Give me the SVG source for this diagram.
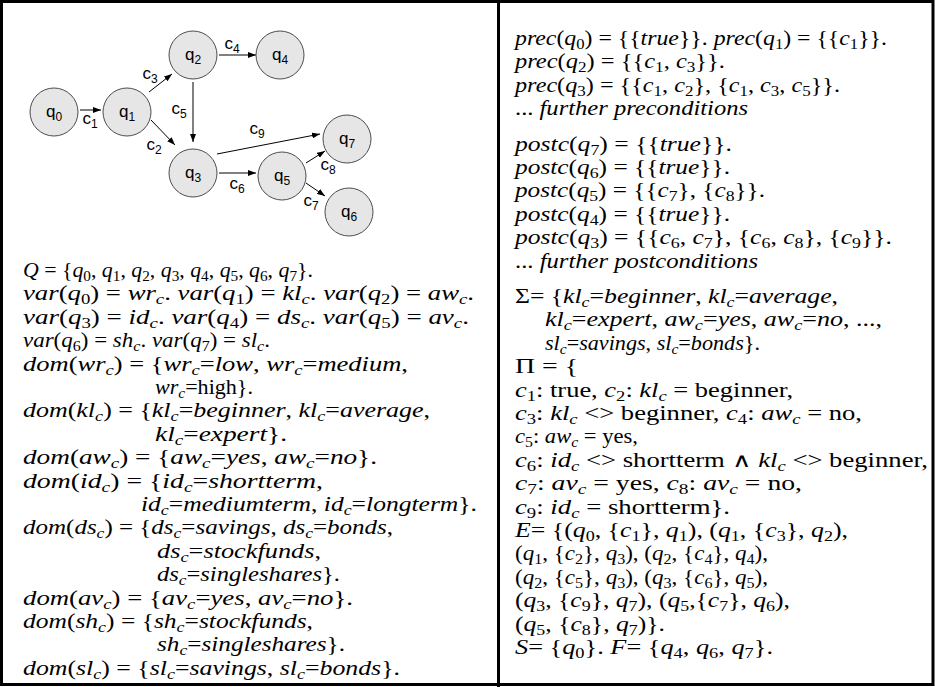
<svg xmlns="http://www.w3.org/2000/svg" width="935" height="687" viewBox="0 0 935 687">
<style>
.bg{fill:#fff}
.frame{fill:none;stroke:#000;stroke-width:3}
.node circle{fill:#e6e6e6;stroke:#4d4d4d;stroke-width:1}
.nl{font-family:"Liberation Sans",Arial,sans-serif;font-size:17px;fill:#000;text-anchor:middle}
.nl .sb{font-size:12px}
.edge{stroke:#000;stroke-width:1;fill:none;marker-end:url(#ah)}
.t{font-family:"Liberation Serif","Times New Roman",serif;font-size:20px;fill:#000}
.i{font-style:italic}
.s{font-size:14px}
</style>
<defs>
<marker id="ah" markerWidth="8" markerHeight="6" refX="8" refY="3" orient="auto" markerUnits="userSpaceOnUse"><path d="M0,0 L8,3 L0,6 z" fill="#000"/></marker>
</defs>
<rect class="bg" x="0" y="0" width="935" height="687"/>
<rect class="frame" x="1.5" y="1.5" width="931.5" height="683"/>
<line x1="498.5" y1="0" x2="498.5" y2="687" stroke="#000" stroke-width="3"/>

<g id="connectors">
<line class="edge" x1="80" y1="110" x2="101" y2="110"/>
<line class="edge" x1="149" y1="92" x2="172" y2="74"/>
<line class="edge" x1="151" y1="120" x2="175" y2="145"/>
<line class="edge" x1="193" y1="82" x2="193" y2="142"/>
<line class="edge" x1="219" y1="55" x2="256" y2="55"/>
<line class="edge" x1="217" y1="154" x2="320" y2="134"/>
<line class="edge" x1="219" y1="173" x2="256" y2="173"/>
<line class="edge" x1="306" y1="163" x2="325" y2="151"/>
<line class="edge" x1="306" y1="183" x2="325" y2="196"/>
<text class="nl" x="90" y="124">c<tspan class="sb" dy="4">1</tspan></text>
<text class="nl" x="150" y="79">c<tspan class="sb" dy="4">3</tspan></text>
<text class="nl" x="154" y="150">c<tspan class="sb" dy="4">2</tspan></text>
<text class="nl" x="179" y="114">c<tspan class="sb" dy="4">5</tspan></text>
<text class="nl" x="232" y="49">c<tspan class="sb" dy="4">4</tspan></text>
<text class="nl" x="257" y="134">c<tspan class="sb" dy="4">9</tspan></text>
<text class="nl" x="237" y="189">c<tspan class="sb" dy="4">6</tspan></text>
<text class="nl" x="328" y="170">c<tspan class="sb" dy="4">8</tspan></text>
<text class="nl" x="311" y="206">c<tspan class="sb" dy="4">7</tspan></text>
</g>

<g id="q0" class="node"><circle cx="54" cy="112" r="24"/><text class="nl" x="54" y="117">q<tspan class="sb" dy="4">0</tspan></text></g>
<g id="q1" class="node"><circle cx="127" cy="112" r="24"/><text class="nl" x="127" y="117">q<tspan class="sb" dy="4">1</tspan></text></g>
<g id="q2" class="node"><circle cx="193" cy="55" r="24"/><text class="nl" x="193" y="60">q<tspan class="sb" dy="4">2</tspan></text></g>
<g id="q4" class="node"><circle cx="280" cy="55" r="24"/><text class="nl" x="280" y="60">q<tspan class="sb" dy="4">4</tspan></text></g>
<g id="q3" class="node"><circle cx="193" cy="173" r="24"/><text class="nl" x="193" y="178">q<tspan class="sb" dy="4">3</tspan></text></g>
<g id="q5" class="node"><circle cx="282" cy="176" r="24"/><text class="nl" x="282" y="181">q<tspan class="sb" dy="4">5</tspan></text></g>
<g id="q7" class="node"><circle cx="347" cy="139" r="24"/><text class="nl" x="347" y="144">q<tspan class="sb" dy="4">7</tspan></text></g>
<g id="q6" class="node"><circle cx="349" cy="212" r="24"/><text class="nl" x="349" y="217">q<tspan class="sb" dy="4">6</tspan></text></g>

<g id="left-text">
<text class="t" x="23" y="277" textLength="290" lengthAdjust="spacingAndGlyphs"><tspan class="i">Q</tspan> = {<tspan class="i">q</tspan><tspan class="s" dy="4">0</tspan><tspan dy="-4">, </tspan><tspan class="i">q</tspan><tspan class="s" dy="4">1</tspan><tspan dy="-4">, </tspan><tspan class="i">q</tspan><tspan class="s" dy="4">2</tspan><tspan dy="-4">, </tspan><tspan class="i">q</tspan><tspan class="s" dy="4">3</tspan><tspan dy="-4">, </tspan><tspan class="i">q</tspan><tspan class="s" dy="4">4</tspan><tspan dy="-4">, </tspan><tspan class="i">q</tspan><tspan class="s" dy="4">5</tspan><tspan dy="-4">, </tspan><tspan class="i">q</tspan><tspan class="s" dy="4">6</tspan><tspan dy="-4">, </tspan><tspan class="i">q</tspan><tspan class="s" dy="4">7</tspan><tspan dy="-4">}.</tspan></text>
<text class="t" x="23" y="300.4" textLength="451" lengthAdjust="spacingAndGlyphs"><tspan class="i">var</tspan>(<tspan class="i">q</tspan><tspan class="s" dy="4">0</tspan><tspan dy="-4">) = </tspan><tspan class="i">wr</tspan><tspan class="s i" dy="4">c</tspan><tspan dy="-4">. </tspan><tspan class="i">var</tspan>(<tspan class="i">q</tspan><tspan class="s" dy="4">1</tspan><tspan dy="-4">) = </tspan><tspan class="i">kl</tspan><tspan class="s i" dy="4">c</tspan><tspan dy="-4">. </tspan><tspan class="i">var</tspan>(<tspan class="i">q</tspan><tspan class="s" dy="4">2</tspan><tspan dy="-4">) = </tspan><tspan class="i">aw</tspan><tspan class="s i" dy="4">c</tspan><tspan dy="-4">.</tspan></text>
<text class="t" x="23" y="323.8" textLength="446" lengthAdjust="spacingAndGlyphs"><tspan class="i">var</tspan>(<tspan class="i">q</tspan><tspan class="s" dy="4">3</tspan><tspan dy="-4">) = </tspan><tspan class="i">id</tspan><tspan class="s i" dy="4">c</tspan><tspan dy="-4">. </tspan><tspan class="i">var</tspan>(<tspan class="i">q</tspan><tspan class="s" dy="4">4</tspan><tspan dy="-4">) = </tspan><tspan class="i">ds</tspan><tspan class="s i" dy="4">c</tspan><tspan dy="-4">. </tspan><tspan class="i">var</tspan>(<tspan class="i">q</tspan><tspan class="s" dy="4">5</tspan><tspan dy="-4">) = </tspan><tspan class="i">av</tspan><tspan class="s i" dy="4">c</tspan><tspan dy="-4">.</tspan></text>
<text class="t" x="23" y="347.2" textLength="247" lengthAdjust="spacingAndGlyphs"><tspan class="i">var</tspan>(<tspan class="i">q</tspan><tspan class="s" dy="4">6</tspan><tspan dy="-4">) = </tspan><tspan class="i">sh</tspan><tspan class="s i" dy="4">c</tspan><tspan dy="-4">. </tspan><tspan class="i">var</tspan>(<tspan class="i">q</tspan><tspan class="s" dy="4">7</tspan><tspan dy="-4">) = </tspan><tspan class="i">sl</tspan><tspan class="s i" dy="4">c</tspan><tspan dy="-4">.</tspan></text>
<text class="t" x="23" y="370.6" textLength="385" lengthAdjust="spacingAndGlyphs"><tspan class="i">dom</tspan>(<tspan class="i">wr</tspan><tspan class="s i" dy="4">c</tspan><tspan dy="-4">) = {</tspan><tspan class="i">wr</tspan><tspan class="s i" dy="4">c</tspan><tspan dy="-4">=</tspan><tspan class="i">low</tspan>, <tspan class="i">wr</tspan><tspan class="s i" dy="4">c</tspan><tspan dy="-4">=</tspan><tspan class="i">medium</tspan>,</text>
<text class="t" x="155" y="394" textLength="98" lengthAdjust="spacingAndGlyphs"><tspan class="i">wr</tspan><tspan class="s i" dy="4">c</tspan><tspan dy="-4">=high}.</tspan></text>
<text class="t" x="23" y="417.4" textLength="407" lengthAdjust="spacingAndGlyphs"><tspan class="i">dom</tspan>(<tspan class="i">kl</tspan><tspan class="s i" dy="4">c</tspan><tspan dy="-4">) = {</tspan><tspan class="i">kl</tspan><tspan class="s i" dy="4">c</tspan><tspan dy="-4">=</tspan><tspan class="i">beginner</tspan>, <tspan class="i">kl</tspan><tspan class="s i" dy="4">c</tspan><tspan dy="-4">=</tspan><tspan class="i">average</tspan>,</text>
<text class="t" x="155" y="440.8" textLength="132" lengthAdjust="spacingAndGlyphs"><tspan class="i">kl</tspan><tspan class="s i" dy="4">c</tspan><tspan dy="-4">=</tspan><tspan class="i">expert</tspan>}.</text>
<text class="t" x="23" y="464.2" textLength="354" lengthAdjust="spacingAndGlyphs"><tspan class="i">dom</tspan>(<tspan class="i">aw</tspan><tspan class="s i" dy="4">c</tspan><tspan dy="-4">) = {</tspan><tspan class="i">aw</tspan><tspan class="s i" dy="4">c</tspan><tspan dy="-4">=</tspan><tspan class="i">yes</tspan>, <tspan class="i">aw</tspan><tspan class="s i" dy="4">c</tspan><tspan dy="-4">=</tspan><tspan class="i">no</tspan>}.</text>
<text class="t" x="23" y="487.6" textLength="300" lengthAdjust="spacingAndGlyphs"><tspan class="i">dom</tspan>(<tspan class="i">id</tspan><tspan class="s i" dy="4">c</tspan><tspan dy="-4">) = {</tspan><tspan class="i">id</tspan><tspan class="s i" dy="4">c</tspan><tspan dy="-4">=</tspan><tspan class="i">shortterm</tspan>,</text>
<text class="t" x="141" y="511" textLength="336" lengthAdjust="spacingAndGlyphs"><tspan class="i">id</tspan><tspan class="s i" dy="4">c</tspan><tspan dy="-4">=</tspan><tspan class="i">mediumterm</tspan>, <tspan class="i">id</tspan><tspan class="s i" dy="4">c</tspan><tspan dy="-4">=</tspan><tspan class="i">longterm</tspan>}.</text>
<text class="t" x="23" y="534.4" textLength="370" lengthAdjust="spacingAndGlyphs"><tspan class="i">dom</tspan>(<tspan class="i">ds</tspan><tspan class="s i" dy="4">c</tspan><tspan dy="-4">) = {</tspan><tspan class="i">ds</tspan><tspan class="s i" dy="4">c</tspan><tspan dy="-4">=</tspan><tspan class="i">savings</tspan>, <tspan class="i">ds</tspan><tspan class="s i" dy="4">c</tspan><tspan dy="-4">=</tspan><tspan class="i">bonds</tspan>,</text>
<text class="t" x="157" y="557.8" textLength="164" lengthAdjust="spacingAndGlyphs"><tspan class="i">ds</tspan><tspan class="s i" dy="4">c</tspan><tspan dy="-4">=</tspan><tspan class="i">stockfunds</tspan>,</text>
<text class="t" x="157" y="581.2" textLength="183" lengthAdjust="spacingAndGlyphs"><tspan class="i">ds</tspan><tspan class="s i" dy="4">c</tspan><tspan dy="-4">=</tspan><tspan class="i">singleshares</tspan>}.</text>
<text class="t" x="23" y="604.6" textLength="330" lengthAdjust="spacingAndGlyphs"><tspan class="i">dom</tspan>(<tspan class="i">av</tspan><tspan class="s i" dy="4">c</tspan><tspan dy="-4">) = {</tspan><tspan class="i">av</tspan><tspan class="s i" dy="4">c</tspan><tspan dy="-4">=</tspan><tspan class="i">yes</tspan>, <tspan class="i">av</tspan><tspan class="s i" dy="4">c</tspan><tspan dy="-4">=</tspan><tspan class="i">no</tspan>}.</text>
<text class="t" x="23" y="628" textLength="290" lengthAdjust="spacingAndGlyphs"><tspan class="i">dom</tspan>(<tspan class="i">sh</tspan><tspan class="s i" dy="4">c</tspan><tspan dy="-4">) = {</tspan><tspan class="i">sh</tspan><tspan class="s i" dy="4">c</tspan><tspan dy="-4">=</tspan><tspan class="i">stockfunds</tspan>,</text>
<text class="t" x="157" y="651.4" textLength="188" lengthAdjust="spacingAndGlyphs"><tspan class="i">sh</tspan><tspan class="s i" dy="4">c</tspan><tspan dy="-4">=</tspan><tspan class="i">singleshares</tspan>}.</text>
<text class="t" x="23" y="674.8" textLength="377" lengthAdjust="spacingAndGlyphs"><tspan class="i">dom</tspan>(<tspan class="i">sl</tspan><tspan class="s i" dy="4">c</tspan><tspan dy="-4">) = {</tspan><tspan class="i">sl</tspan><tspan class="s i" dy="4">c</tspan><tspan dy="-4">=</tspan><tspan class="i">savings</tspan>, <tspan class="i">sl</tspan><tspan class="s i" dy="4">c</tspan><tspan dy="-4">=</tspan><tspan class="i">bonds</tspan>}.</text>
</g>

<g id="right-text">
<text class="t" x="515" y="45" textLength="372" lengthAdjust="spacingAndGlyphs"><tspan class="i">prec</tspan>(<tspan class="i">q</tspan><tspan class="s" dy="4">0</tspan><tspan dy="-4">) = {{</tspan><tspan class="i">true</tspan>}}. <tspan class="i">prec</tspan>(<tspan class="i">q</tspan><tspan class="s" dy="4">1</tspan><tspan dy="-4">) = {{</tspan><tspan class="i">c</tspan><tspan class="s" dy="4">1</tspan><tspan dy="-4">}}.</tspan></text>
<text class="t" x="515" y="68.4" textLength="210" lengthAdjust="spacingAndGlyphs"><tspan class="i">prec</tspan>(<tspan class="i">q</tspan><tspan class="s" dy="4">2</tspan><tspan dy="-4">) = {{</tspan><tspan class="i">c</tspan><tspan class="s" dy="4">1</tspan><tspan dy="-4">, </tspan><tspan class="i">c</tspan><tspan class="s" dy="4">3</tspan><tspan dy="-4">}}.</tspan></text>
<text class="t" x="515" y="91.8" textLength="325" lengthAdjust="spacingAndGlyphs"><tspan class="i">prec</tspan>(<tspan class="i">q</tspan><tspan class="s" dy="4">3</tspan><tspan dy="-4">) = {{</tspan><tspan class="i">c</tspan><tspan class="s" dy="4">1</tspan><tspan dy="-4">, </tspan><tspan class="i">c</tspan><tspan class="s" dy="4">2</tspan><tspan dy="-4">}, {</tspan><tspan class="i">c</tspan><tspan class="s" dy="4">1</tspan><tspan dy="-4">, </tspan><tspan class="i">c</tspan><tspan class="s" dy="4">3</tspan><tspan dy="-4">, </tspan><tspan class="i">c</tspan><tspan class="s" dy="4">5</tspan><tspan dy="-4">}}.</tspan></text>
<text class="t" x="515" y="115.2" textLength="233" lengthAdjust="spacingAndGlyphs">... <tspan class="i">further preconditions</tspan></text>
<text class="t" x="515" y="150.6" textLength="217" lengthAdjust="spacingAndGlyphs"><tspan class="i">postc</tspan>(<tspan class="i">q</tspan><tspan class="s" dy="4">7</tspan><tspan dy="-4">) = {{</tspan><tspan class="i">true</tspan>}}.</text>
<text class="t" x="515" y="174" textLength="215" lengthAdjust="spacingAndGlyphs"><tspan class="i">postc</tspan>(<tspan class="i">q</tspan><tspan class="s" dy="4">6</tspan><tspan dy="-4">) = {{</tspan><tspan class="i">true</tspan>}}.</text>
<text class="t" x="515" y="197.4" textLength="250" lengthAdjust="spacingAndGlyphs"><tspan class="i">postc</tspan>(<tspan class="i">q</tspan><tspan class="s" dy="4">5</tspan><tspan dy="-4">) = {{</tspan><tspan class="i">c</tspan><tspan class="s" dy="4">7</tspan><tspan dy="-4">}, {</tspan><tspan class="i">c</tspan><tspan class="s" dy="4">8</tspan><tspan dy="-4">}}.</tspan></text>
<text class="t" x="515" y="220.8" textLength="215" lengthAdjust="spacingAndGlyphs"><tspan class="i">postc</tspan>(<tspan class="i">q</tspan><tspan class="s" dy="4">4</tspan><tspan dy="-4">) = {{</tspan><tspan class="i">true</tspan>}}.</text>
<text class="t" x="515" y="244.2" textLength="377" lengthAdjust="spacingAndGlyphs"><tspan class="i">postc</tspan>(<tspan class="i">q</tspan><tspan class="s" dy="4">3</tspan><tspan dy="-4">) = {{</tspan><tspan class="i">c</tspan><tspan class="s" dy="4">6</tspan><tspan dy="-4">, </tspan><tspan class="i">c</tspan><tspan class="s" dy="4">7</tspan><tspan dy="-4">}, {</tspan><tspan class="i">c</tspan><tspan class="s" dy="4">6</tspan><tspan dy="-4">, </tspan><tspan class="i">c</tspan><tspan class="s" dy="4">8</tspan><tspan dy="-4">}, {</tspan><tspan class="i">c</tspan><tspan class="s" dy="4">9</tspan><tspan dy="-4">}}.</tspan></text>
<text class="t" x="515" y="267.6" textLength="243" lengthAdjust="spacingAndGlyphs">... <tspan class="i">further postconditions</tspan></text>
<text class="t" x="515" y="303" textLength="323" lengthAdjust="spacingAndGlyphs">Σ= {<tspan class="i">kl</tspan><tspan class="s i" dy="4">c</tspan><tspan dy="-4">=</tspan><tspan class="i">beginner</tspan>, <tspan class="i">kl</tspan><tspan class="s i" dy="4">c</tspan><tspan dy="-4">=</tspan><tspan class="i">average</tspan>,</text>
<text class="t" x="545" y="326.4" textLength="337" lengthAdjust="spacingAndGlyphs"><tspan class="i">kl</tspan><tspan class="s i" dy="4">c</tspan><tspan dy="-4">=</tspan><tspan class="i">expert</tspan>, <tspan class="i">aw</tspan><tspan class="s i" dy="4">c</tspan><tspan dy="-4">=</tspan><tspan class="i">yes</tspan>, <tspan class="i">aw</tspan><tspan class="s i" dy="4">c</tspan><tspan dy="-4">=</tspan><tspan class="i">no</tspan>, ...,</text>
<text class="t" x="545" y="349.8" textLength="215" lengthAdjust="spacingAndGlyphs"><tspan class="i">sl</tspan><tspan class="s i" dy="4">c</tspan><tspan dy="-4">=</tspan><tspan class="i">savings</tspan>, <tspan class="i">sl</tspan><tspan class="s i" dy="4">c</tspan><tspan dy="-4">=</tspan><tspan class="i">bonds</tspan>}.</text>
<text class="t" x="515" y="373.2" textLength="63" lengthAdjust="spacingAndGlyphs">Π = {</text>
<text class="t" x="515" y="396.6" textLength="278" lengthAdjust="spacingAndGlyphs"><tspan class="i">c</tspan><tspan class="s" dy="4">1</tspan><tspan dy="-4">: true, </tspan><tspan class="i">c</tspan><tspan class="s" dy="4">2</tspan><tspan dy="-4">: </tspan><tspan class="i">kl</tspan><tspan class="s i" dy="4">c</tspan><tspan dy="-4"> = beginner,</tspan></text>
<text class="t" x="515" y="420" textLength="347" lengthAdjust="spacingAndGlyphs"><tspan class="i">c</tspan><tspan class="s" dy="4">3</tspan><tspan dy="-4">: </tspan><tspan class="i">kl</tspan><tspan class="s i" dy="4">c</tspan><tspan dy="-4"> &lt;&gt; beginner, </tspan><tspan class="i">c</tspan><tspan class="s" dy="4">4</tspan><tspan dy="-4">: </tspan><tspan class="i">aw</tspan><tspan class="s i" dy="4">c</tspan><tspan dy="-4"> = no,</tspan></text>
<text class="t" x="515" y="443.4" textLength="123" lengthAdjust="spacingAndGlyphs"><tspan class="i">c</tspan><tspan class="s" dy="4">5</tspan><tspan dy="-4">: </tspan><tspan class="i">aw</tspan><tspan class="s i" dy="4">c</tspan><tspan dy="-4"> = yes,</tspan></text>
<text class="t" x="515" y="466.8" textLength="413" lengthAdjust="spacingAndGlyphs"><tspan class="i">c</tspan><tspan class="s" dy="4">6</tspan><tspan dy="-4">: </tspan><tspan class="i">id</tspan><tspan class="s i" dy="4">c</tspan><tspan dy="-4"> &lt;&gt; shortterm ∧ </tspan><tspan class="i">kl</tspan><tspan class="s i" dy="4">c</tspan><tspan dy="-4"> &lt;&gt; beginner,</tspan></text>
<text class="t" x="515" y="490.2" textLength="287" lengthAdjust="spacingAndGlyphs"><tspan class="i">c</tspan><tspan class="s" dy="4">7</tspan><tspan dy="-4">: </tspan><tspan class="i">av</tspan><tspan class="s i" dy="4">c</tspan><tspan dy="-4"> = yes, </tspan><tspan class="i">c</tspan><tspan class="s" dy="4">8</tspan><tspan dy="-4">: </tspan><tspan class="i">av</tspan><tspan class="s i" dy="4">c</tspan><tspan dy="-4"> = no,</tspan></text>
<text class="t" x="515" y="513.6" textLength="215" lengthAdjust="spacingAndGlyphs"><tspan class="i">c</tspan><tspan class="s" dy="4">9</tspan><tspan dy="-4">: </tspan><tspan class="i">id</tspan><tspan class="s i" dy="4">c</tspan><tspan dy="-4"> = shortterm}.</tspan></text>
<text class="t" x="515" y="537" textLength="333" lengthAdjust="spacingAndGlyphs"><tspan class="i">E</tspan>= {(<tspan class="i">q</tspan><tspan class="s" dy="4">0</tspan><tspan dy="-4">, {</tspan><tspan class="i">c</tspan><tspan class="s" dy="4">1</tspan><tspan dy="-4">}, </tspan><tspan class="i">q</tspan><tspan class="s" dy="4">1</tspan><tspan dy="-4">), (</tspan><tspan class="i">q</tspan><tspan class="s" dy="4">1</tspan><tspan dy="-4">, {</tspan><tspan class="i">c</tspan><tspan class="s" dy="4">3</tspan><tspan dy="-4">}, </tspan><tspan class="i">q</tspan><tspan class="s" dy="4">2</tspan><tspan dy="-4">),</tspan></text>
<text class="t" x="515" y="560.4" textLength="253" lengthAdjust="spacingAndGlyphs">(<tspan class="i">q</tspan><tspan class="s" dy="4">1</tspan><tspan dy="-4">, {</tspan><tspan class="i">c</tspan><tspan class="s" dy="4">2</tspan><tspan dy="-4">}, </tspan><tspan class="i">q</tspan><tspan class="s" dy="4">3</tspan><tspan dy="-4">), (</tspan><tspan class="i">q</tspan><tspan class="s" dy="4">2</tspan><tspan dy="-4">, {</tspan><tspan class="i">c</tspan><tspan class="s" dy="4">4</tspan><tspan dy="-4">}, </tspan><tspan class="i">q</tspan><tspan class="s" dy="4">4</tspan><tspan dy="-4">),</tspan></text>
<text class="t" x="515" y="583.8" textLength="253" lengthAdjust="spacingAndGlyphs">(<tspan class="i">q</tspan><tspan class="s" dy="4">2</tspan><tspan dy="-4">, {</tspan><tspan class="i">c</tspan><tspan class="s" dy="4">5</tspan><tspan dy="-4">}, </tspan><tspan class="i">q</tspan><tspan class="s" dy="4">3</tspan><tspan dy="-4">), (</tspan><tspan class="i">q</tspan><tspan class="s" dy="4">3</tspan><tspan dy="-4">, {</tspan><tspan class="i">c</tspan><tspan class="s" dy="4">6</tspan><tspan dy="-4">}, </tspan><tspan class="i">q</tspan><tspan class="s" dy="4">5</tspan><tspan dy="-4">),</tspan></text>
<text class="t" x="515" y="607.2" textLength="275" lengthAdjust="spacingAndGlyphs">(<tspan class="i">q</tspan><tspan class="s" dy="4">3</tspan><tspan dy="-4">, {</tspan><tspan class="i">c</tspan><tspan class="s" dy="4">9</tspan><tspan dy="-4">}, </tspan><tspan class="i">q</tspan><tspan class="s" dy="4">7</tspan><tspan dy="-4">), (</tspan><tspan class="i">q</tspan><tspan class="s" dy="4">5</tspan><tspan dy="-4">,{</tspan><tspan class="i">c</tspan><tspan class="s" dy="4">7</tspan><tspan dy="-4">}, </tspan><tspan class="i">q</tspan><tspan class="s" dy="4">6</tspan><tspan dy="-4">),</tspan></text>
<text class="t" x="515" y="630.6" textLength="150" lengthAdjust="spacingAndGlyphs">(<tspan class="i">q</tspan><tspan class="s" dy="4">5</tspan><tspan dy="-4">, {</tspan><tspan class="i">c</tspan><tspan class="s" dy="4">8</tspan><tspan dy="-4">}, </tspan><tspan class="i">q</tspan><tspan class="s" dy="4">7</tspan><tspan dy="-4">)}.</tspan></text>
<text class="t" x="515" y="654" textLength="258" lengthAdjust="spacingAndGlyphs"><tspan class="i">S</tspan>= {<tspan class="i">q</tspan><tspan class="s" dy="4">0</tspan><tspan dy="-4">}. </tspan><tspan class="i">F</tspan>= {<tspan class="i">q</tspan><tspan class="s" dy="4">4</tspan><tspan dy="-4">, </tspan><tspan class="i">q</tspan><tspan class="s" dy="4">6</tspan><tspan dy="-4">, </tspan><tspan class="i">q</tspan><tspan class="s" dy="4">7</tspan><tspan dy="-4">}.</tspan></text>
</g>
</svg>
